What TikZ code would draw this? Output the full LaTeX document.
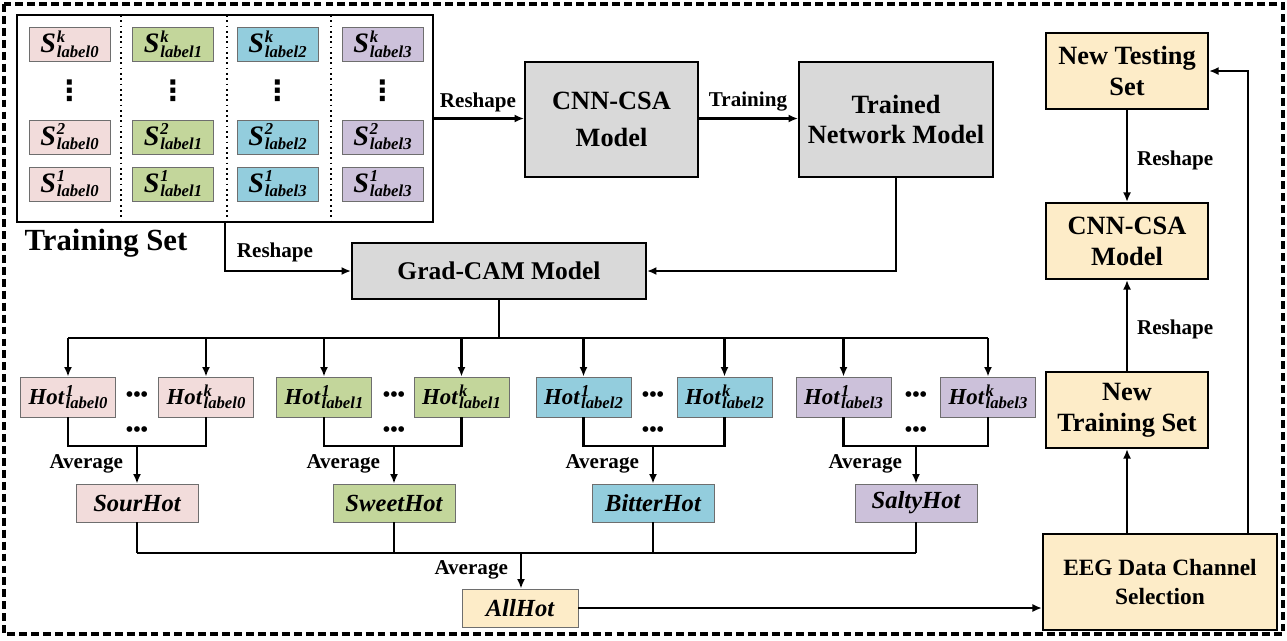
\documentclass[tikz,border=0pt]{standalone}
\usepackage{fontspec}
\setmainfont{Liberation Serif}
\newfontfamily\symfam{DejaVu Sans}
\usepackage{xcolor}
\definecolor{SourPink}{RGB}{242,220,219}
\definecolor{SweetGreen}{RGB}{195,214,155}
\definecolor{BitterBlue}{RGB}{147,205,221}
\definecolor{SaltyPurple}{RGB}{204,193,218}
\definecolor{ModelGray}{RGB}{217,217,217}
\definecolor{NewYellow}{RGB}{253,236,200}
\definecolor{EdgeGray}{RGB}{110,110,110}
\usepackage{tikz}
\usetikzlibrary{positioning, arrows.meta}

% base con super- y subindice apilados / stacked scripts
\newcommand{\supsub}[3]{#1\/\kern0.5pt\rlap{\raisebox{0.36em}{\fontsize{9.5}{9.5}\selectfont #2}}\raisebox{-0.17em}{\fontsize{9.5}{9.5}\selectfont #3}}

\begin{document}
\begin{tikzpicture}[x=0.02cm, y=-0.02cm,
    conn/.style={line width=1.3pt},
    arr/.style={conn, -{Latex[length=1.9mm, width=1.6mm]}},
    sbox/.style={draw=EdgeGray, line width=0.5pt, minimum width=1.62cm, minimum height=0.68cm, inner sep=0pt, font=\fontsize{16}{16}\selectfont\bfseries\itshape},
    hotbox/.style={draw=EdgeGray, line width=0.5pt, minimum width=1.9cm, minimum height=0.8cm, inner sep=0pt, font=\fontsize{13}{13}\selectfont\bfseries\itshape},
    tastebox/.style={draw=EdgeGray, line width=0.5pt, minimum width=2.44cm, minimum height=0.76cm, inner sep=0pt, font=\fontsize{14}{14}\selectfont\bfseries\itshape},
    modelbox/.style={draw, fill=ModelGray, line width=1.1pt, align=center, inner sep=0pt, font=\fontsize{15}{17}\selectfont\bfseries},
    newbox/.style={draw, fill=NewYellow, line width=1.2pt, align=center, inner sep=0pt, minimum width=3.24cm, minimum height=1.52cm, font=\fontsize{15}{17.6}\selectfont\bfseries},
    lbl/.style={font=\fontsize{12}{12}\selectfont\bfseries, inner sep=1pt},
    dotsnode/.style={font=\fontsize{12}{12}\selectfont\bfseries, inner sep=0pt}]
\useasboundingbox (0,0) rectangle (1287,640);

% Marco exterior / Outer frame
\draw[line width=2.3pt, dash pattern=on 4.5pt off 2.3pt] (4,4) rectangle (1283,634);

% Conjunto de entrenamiento / Training set
\node[draw, line width=1.4pt, minimum width=8.32cm, minimum height=4.14cm, inner sep=0pt] (trainset) at (225,118.5) {};
\draw[dotted, line width=1pt] (121,15) -- (121,222);
\draw[dotted, line width=1pt] (227,15) -- (227,222);
\draw[dotted, line width=1pt] (331,15) -- (331,222);
\foreach \c/\x/\col/\last in {0/69.5/SourPink/0, 1/173/SweetGreen/1, 2/277.5/BitterBlue/3, 3/382.5/SaltyPurple/3} {
  \node[sbox, fill=\col] (sk\c) at (\x,44) {\supsub{S}{k}{label\c}};
  \node[font=\fontsize{16}{16}\selectfont\symfam\bfseries, inner sep=0pt] (svdots\c) at (\x,91) {⋮};
  \node[sbox, fill=\col] (stwo\c) at (\x,137) {\supsub{S}{2}{label\c}};
  \node[sbox, fill=\col] (sone\c) at (\x,184) {\supsub{S}{1}{label\last}};
}
\node[font=\fontsize{17.5}{17.5}\selectfont\bfseries] (trainlbl) at (106,243) {Training Set};

% Modelos / Models
\node[modelbox, minimum width=3.46cm, minimum height=2.3cm] (cnn) at (611.5,119.5) {CNN-CSA\\[4pt]Model};
\node[modelbox, minimum width=3.88cm, minimum height=2.3cm] (trained) at (896,119.5) {Trained\\Network Model};
\node[modelbox, minimum width=5.88cm, minimum height=1.12cm, font=\fontsize{14.5}{17}\selectfont\bfseries] (gradcam) at (499,271) {Grad-CAM Model};

\draw[arr] (trainset.east) -- (trainset.east -| cnn.west);
\node[lbl] (reshapeA) at (478,102) {Reshape};
\draw[arr] (trainset.east -| cnn.east) -- (trainset.east -| trained.west);
\node[lbl] (traininglbl) at (748,102) {Training};
\draw[arr] (trainset.south) |- (gradcam.west);
\node[lbl] (reshapeB) at (275,252) {Reshape};
\draw[arr] (trained.south) |- (gradcam.east);

% Mapas de calor / Heat maps
\coordinate (bus) at (499,338);
\coordinate (allbus) at (521,553);
\draw[conn] (gradcam.south) -- (bus);
\foreach \c/\xa/\xb/\xm/\col/\taste in {0/68/206/137/SourPink/SourHot, 1/324/461.5/394/SweetGreen/SweetHot, 2/583.5/724.5/653/BitterBlue/BitterHot, 3/843.5/988/916/SaltyPurple/SaltyHot} {
  \node[hotbox, fill=\col] (hone\c) at (\xa,397) {\supsub{Hot}{1}{label\c}};
  \node[hotbox, fill=\col] (hk\c) at (\xb,397) {\supsub{Hot}{k}{label\c}};
  \node[dotsnode] (hdots\c) at (\xm,397) {•••};
  \node[dotsnode] (hdotsb\c) at (\xm,432) {•••};
  \draw[arr] (hone\c.north |- bus) -- (hone\c.north);
  \draw[arr] (hk\c.north |- bus) -- (hk\c.north);
  \coordinate (join\c) at (\xm,446);
  \draw[conn] (hone\c.south) |- (join\c) -| (hk\c.south);
  \node[tastebox, fill=\col] (taste\c) at (\xm,503) {\taste};
  \draw[arr] (join\c) -- (taste\c.north);
  \node[lbl, anchor=east] (avg\c) at (\xm-12,464) {Average};
  \draw[conn] (taste\c.south) -- (taste\c.south |- allbus);
}
\draw[conn] (hone0.north |- bus) -- (hk3.north |- bus);
\draw[conn] (taste0.south |- allbus) -- (taste3.south |- allbus);

% Promedio total / Overall average
\node[tastebox, fill=NewYellow, minimum width=2.32cm] (allhot) at (520,608) {AllHot};
\draw[arr] (allbus) -- (allbus |- allhot.north);
\node[lbl, anchor=east] (avgall) at (510,570) {Average};

% Columna derecha / Right column
\node[newbox, minimum width=4.68cm, minimum height=1.92cm, font=\fontsize{13.3}{16.5}\selectfont\bfseries] (eeg) at (1160,582) {EEG Data Channel\\Selection};
\node[newbox] (newtest) at (1127,71) {New Testing\\Set};
\node[newbox] (cnnr) at (1127,241) {CNN-CSA\\Model};
\node[newbox] (newtrain) at (1127,410) {New\\Training Set};
\draw[arr] (allhot.east) -- (allhot.east -| eeg.west);
\draw[arr] (newtrain.south |- eeg.north) -- (newtrain.south);
\draw[arr] (newtrain) -- (cnnr);
\draw[arr] (newtest) -- (cnnr);
\draw[arr] ([xshift=1.76cm]eeg.north) |- (newtest.east);
\node[lbl, anchor=west] (reshapeC) at (1135,160) {Reshape};
\node[lbl, anchor=west] (reshapeD) at (1135,329) {Reshape};
\end{tikzpicture}
\end{document}
